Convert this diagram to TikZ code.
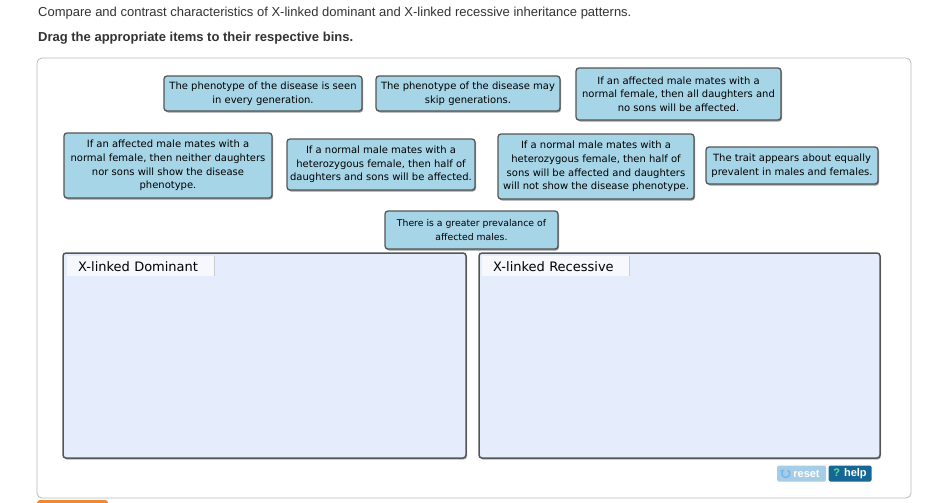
\documentclass[tikz,border=0pt]{standalone}
\definecolor{card_blue}{RGB}{167, 213, 232}
\definecolor{card_edge}{RGB}{85, 85, 85}
\definecolor{bin_fill}{RGB}{229, 237, 252}
\definecolor{tab_fill}{RGB}{246, 248, 253}
\definecolor{panel_edge}{RGB}{185, 185, 185}
\definecolor{reset_blue}{RGB}{166, 204, 230}
\definecolor{reset_icon}{RGB}{110, 185, 245}
\definecolor{help_blue}{RGB}{22, 102, 150}
\definecolor{help_green}{RGB}{95, 225, 155}
\definecolor{tab_orange}{RGB}{240, 135, 50}
\usepackage{fontspec}
\setmainfont{Liberation Sans}
\newfontfamily\cardface{DejaVu Sans}
\usepackage{tikz}
\usetikzlibrary{arrows.meta, positioning, shadows, calc}

\tikzset{
  card/.style={draw=card_edge, line width=1.3pt, fill=card_blue, rounded corners=3pt,
    align=center, inner xsep=3pt, inner ysep=2pt,
    font=\cardface\fontsize{10}{13.7}\selectfont,
    drop shadow={shadow xshift=1pt, shadow yshift=-1.5pt, fill=black, opacity=0.4}},
  bin/.style={draw=card_edge, line width=1.5pt, fill=bin_fill, rounded corners=3pt,
    drop shadow={shadow xshift=1pt, shadow yshift=-1.5pt, fill=black, opacity=0.3}},
  bintab/.style={fill=tab_fill, anchor=north west, minimum height=20pt, inner xsep=11pt,
    text width=125pt, align=left, font=\cardface\fontsize{13}{14}\selectfont},
  btn/.style={minimum height=16pt, inner xsep=3pt, inner ysep=0pt, rounded corners=1.5pt,
    text=white, font=\bfseries\fontsize{11}{12}\selectfont}
}

\begin{document}
\begin{tikzpicture}[x=1pt, y=-1pt]
  \useasboundingbox (0,0) rectangle (951,503);
  \fill[white] (0,0) rectangle (951,503);

  % question text
  \node[anchor=base west, inner sep=0pt, text=black!80, font=\fontsize{13}{15}\selectfont] (prompt) at (38,17)
    {Compare and contrast characteristics of X-linked dominant and X-linked recessive inheritance patterns.};
  \node[anchor=base west, inner sep=0pt, text=black!80, font=\bfseries\fontsize{13}{15}\selectfont] (instr) at (38,42)
    {Drag the appropriate items to their respective bins.};

  % outer panel
  \node[draw=panel_edge, line width=0.8pt, rounded corners=5pt, minimum width=874pt, minimum height=440pt] (panel) at (474,278) {};
  \fill[tab_orange, rounded corners=3pt] (37,500) rectangle (108,512);

  % items to sort
  \node[card, minimum width=198pt, minimum height=35pt] (everyGen) at (263,93.5)
    {The phenotype of the disease is seen\\ in every generation.};
  \node[card, minimum width=184pt, minimum height=35pt] (skipGen) at (468,93.5)
    {The phenotype of the disease may\\ skip generations.};
  \node[card, minimum width=205pt, minimum height=52pt] (allDaughters) at (678.5,94)
    {If an affected male mates with a\\ normal female, then all daughters and\\ no sons will be affected.};
  \node[card, minimum width=208pt, minimum height=65pt] (neither) at (168,165.5)
    {If an affected male mates with a\\ normal female, then neither daughters\\ nor sons will show the disease\\ phenotype.};
  \node[card, minimum width=188pt, minimum height=51pt] (halfBoth) at (381,164.5)
    {If a normal male mates with a\\ heterozygous female, then half of\\ daughters and sons will be affected.};
  \node[card, minimum width=196pt, minimum height=65pt] (halfSons) at (596,166.5)
    {If a normal male mates with a\\ heterozygous female, then half of\\ sons will be affected and daughters\\ will not show the disease phenotype.};
  \node[card, minimum width=172pt, minimum height=37pt] (equalSex) at (792,165.5)
    {The trait appears about equally\\ prevalent in males and females.};
  \node[card, minimum width=173pt, minimum height=38pt, font=\cardface\fontsize{9.3}{13.5}\selectfont] (moreMales) at (471.5,230)
    {There is a greater prevalance of\\ affected males.};

  % bins
  \node[bin, minimum width=403pt, minimum height=205pt] (domBin) at (264.5,355.5) {};
  \node[bin, minimum width=401pt, minimum height=205pt] (recBin) at (679.5,355.5) {};
  \node[bintab] (domTab) at (67,256) {X-linked Dominant};
  \node[bintab] (recTab) at (482,256) {X-linked Recessive};
  \draw[black!20, line width=1pt] (domTab.north east) -- (domTab.south east);
  \draw[black!20, line width=1pt] (recTab.north east) -- (recTab.south east);

  % buttons
  \node[btn, fill=reset_blue, minimum width=49pt] (resetBtn) at (801.5,473.5)
    {\hspace{10pt}reset};
  \draw[reset_icon, line width=1.5pt, -{Latex[length=3pt, width=4.5pt]}]
    ($(resetBtn.west)+(11pt,3.46pt)$) arc[start angle=60, end angle=-240, radius=4pt];
  \node[btn, fill=help_blue, minimum width=43pt] (helpBtn) at (850,473.5)
    {{\color{help_green}?} help};
\end{tikzpicture}
\end{document}
